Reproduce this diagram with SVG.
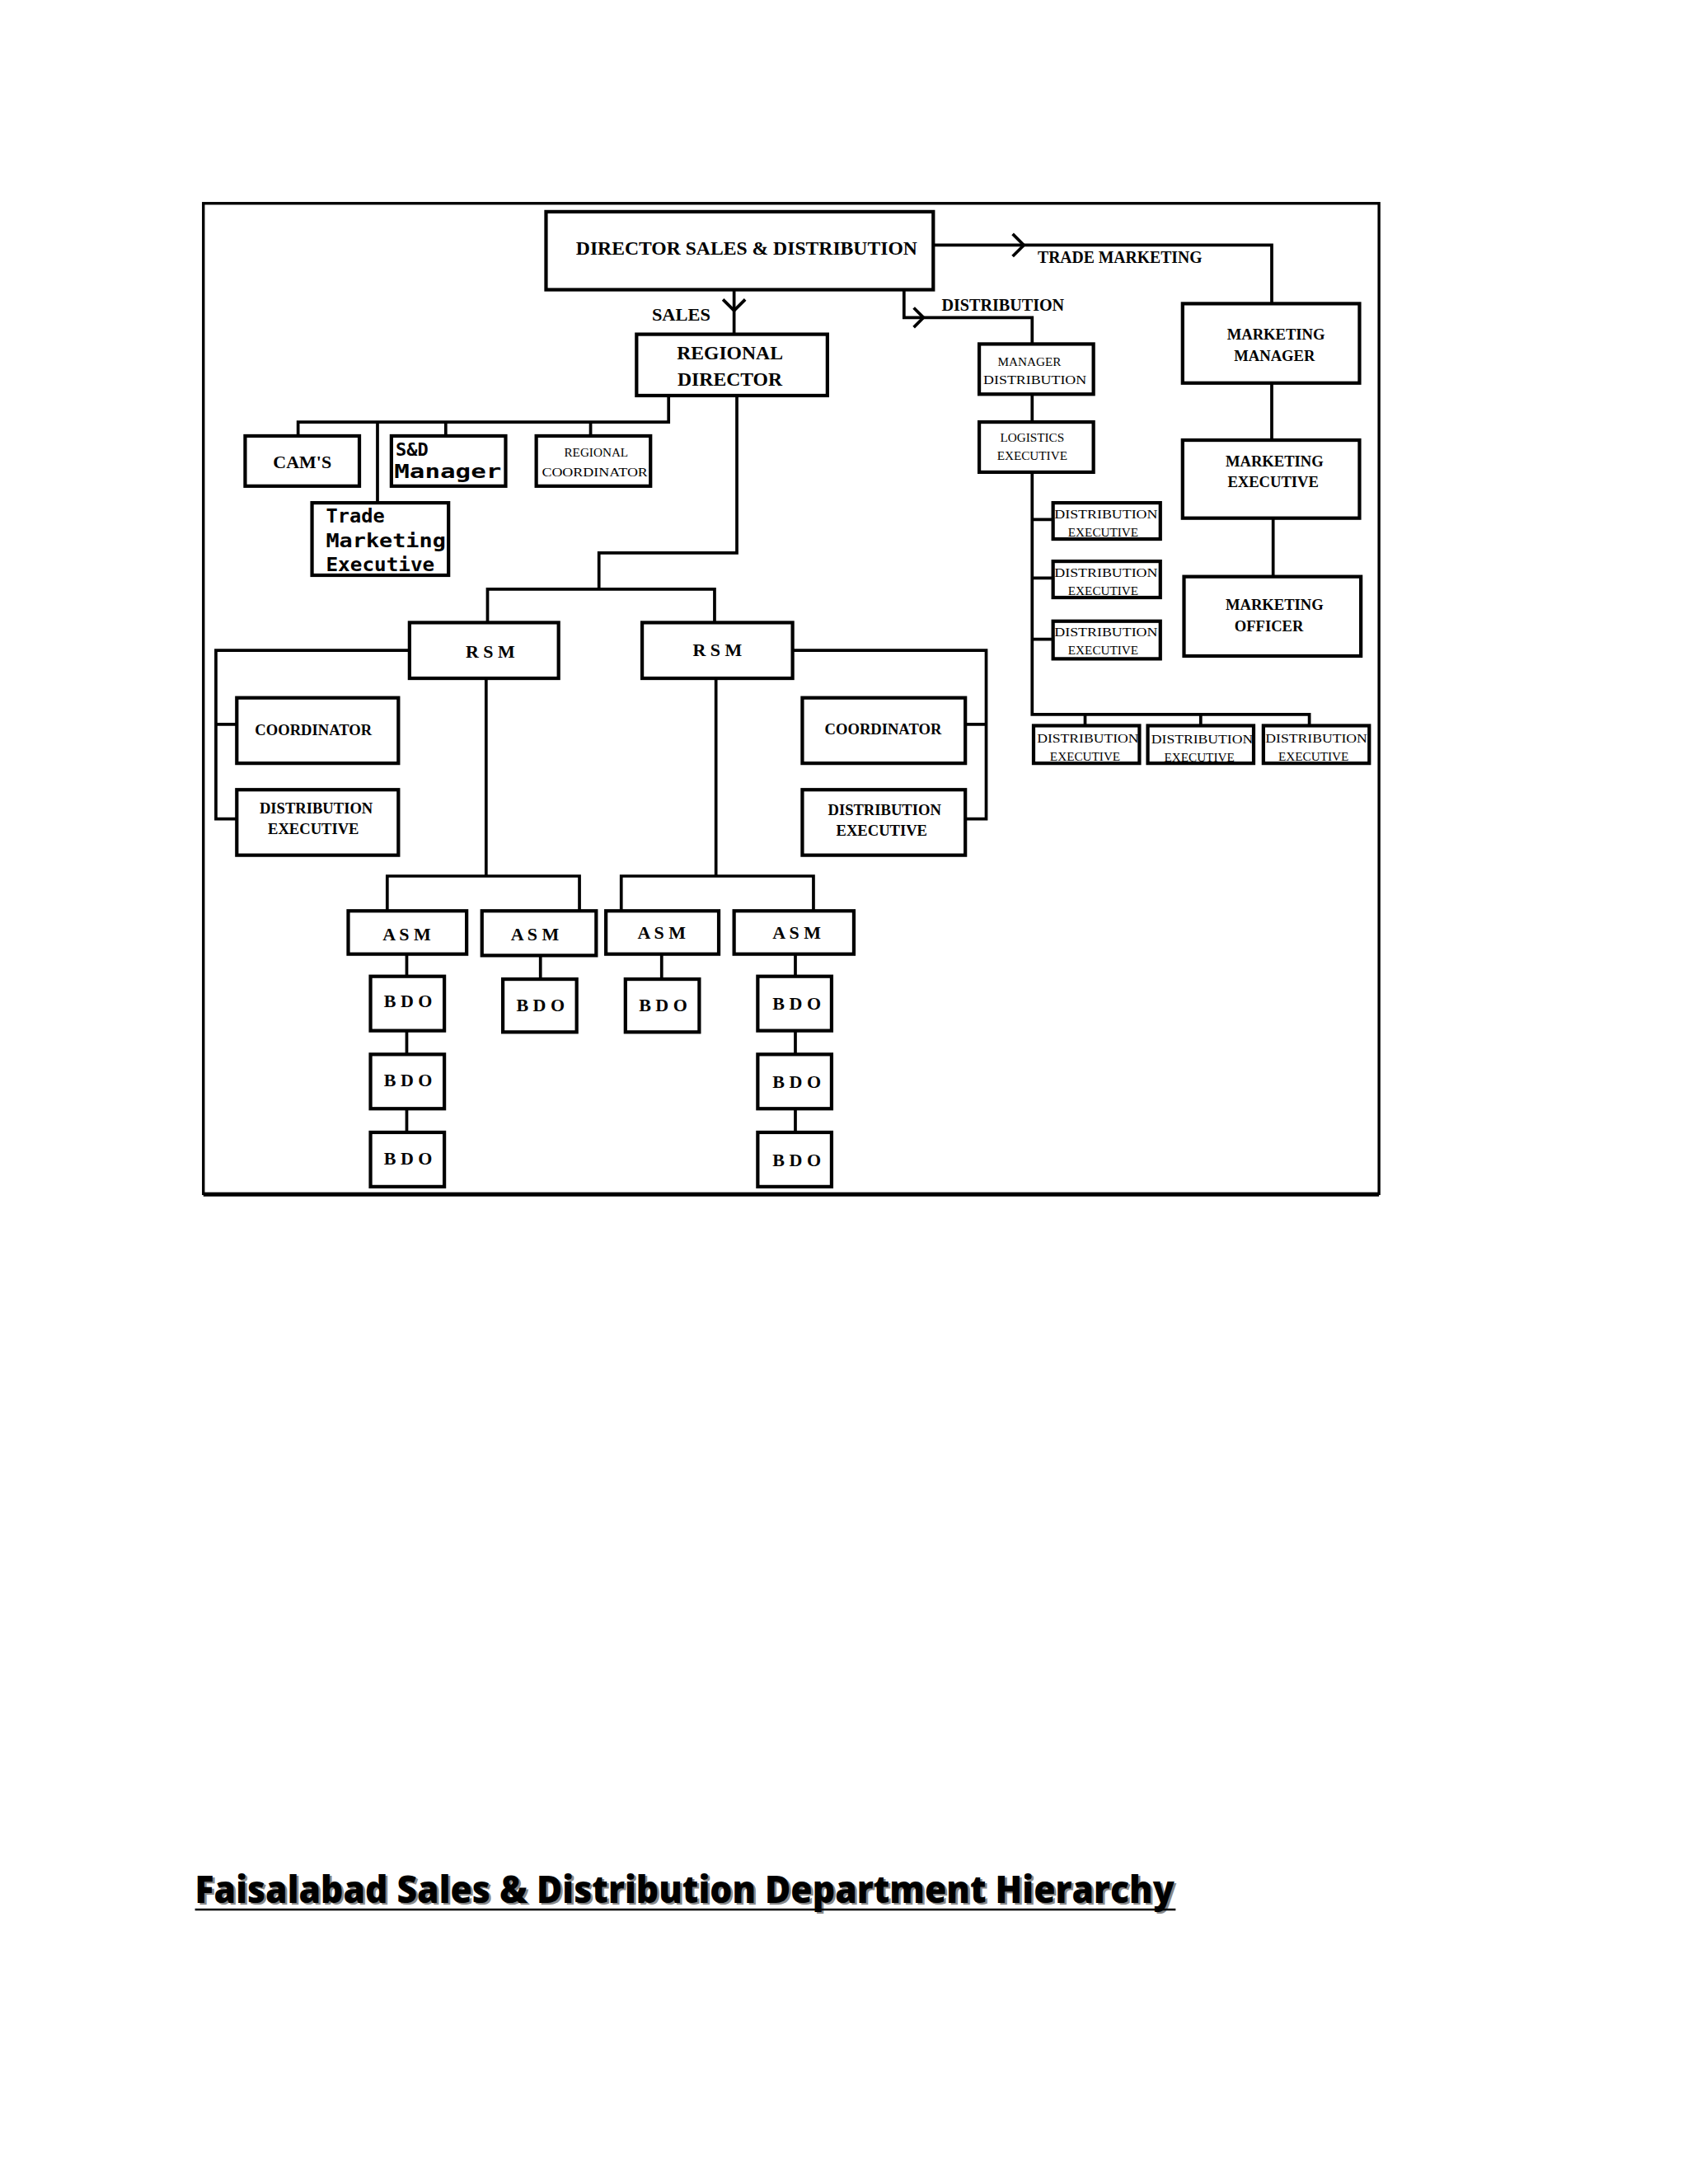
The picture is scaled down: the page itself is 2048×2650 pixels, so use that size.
<svg xmlns="http://www.w3.org/2000/svg" width="2048" height="2650" viewBox="0 0 2048 2650">
<style>
.b{fill:#fff;stroke:#000;stroke-width:2.5}
.c{fill:none;stroke:#000;stroke-width:2.2}
.t{font-family:"Liberation Serif",serif;font-weight:bold;fill:#000;text-anchor:middle}
.s{font-family:"Liberation Serif",serif;fill:#000;text-anchor:middle;font-size:9px}
.m{font-family:"DejaVu Sans Mono",monospace;font-weight:bold;fill:#000}
</style>
<rect width="2048" height="2650" fill="#fff"/>
<g transform="scale(1.69)">
<rect x="146" y="146" width="844" height="711" fill="none" stroke="#000" stroke-width="2"/>
<line x1="146" y1="858.5" x2="990" y2="858.5" stroke="#000" stroke-width="1"/>
<g id="connectors" class="c">
<path d="M670 176H913V218"/><path d="M727 168L735 176L727 184"/>
<path d="M649 208V228H741V247"/><path d="M656 221L663 228L656 235"/>
<path d="M527 208V240"/><path d="M519 215L527 223L535 215"/>
<path d="M480 284V303H214V313M271 303V361M320 303V313M424 303V313"/>
<path d="M529 284V397H430V423M350 447V423H513V447"/>
<path d="M294 467H155V588H170M155 520H170"/>
<path d="M569 467H708V588H693M708 520H693"/>
<path d="M349 487V629M278 654V629H416V654"/>
<path d="M514 487V629M446 654V629H584V654"/>
<path d="M292 685V701M292 740V757M292 796V813"/>
<path d="M388 686V703M475 685V703"/>
<path d="M571 685V701M571 740V757M571 796V813"/>
<path d="M741 283V303M741 339V513H940V521M779 513V521M862 513V521M741 373H756M741 415H756M741 459H756"/>
<path d="M913 275V316M914 372V414"/>
</g>
<g class="t" font-size="12">
<text x="804" y="189" textLength="118" lengthAdjust="spacingAndGlyphs">TRADE MARKETING</text>
<text x="720" y="223" textLength="88" lengthAdjust="spacingAndGlyphs">DISTRIBUTION</text>
<text x="489" y="230" font-size="13" textLength="42" lengthAdjust="spacingAndGlyphs">SALES</text>
</g>
<g id="director"><rect class="b" x="392" y="152" width="278" height="56"/><text class="t" x="536" y="183" font-size="14" textLength="245" lengthAdjust="spacingAndGlyphs">DIRECTOR  SALES &amp; DISTRIBUTION</text></g>
<g id="regional-director"><rect class="b" x="457" y="240" width="137" height="44"/><text class="t" x="524" y="258" font-size="14">REGIONAL</text><text class="t" x="524" y="277" font-size="14">DIRECTOR</text></g>
<g id="cams"><rect class="b" x="176" y="313" width="82" height="36"/><text class="t" x="217" y="336" font-size="13">CAM'S</text></g>
<g id="sd-manager"><rect class="b" x="281" y="313" width="82" height="36"/><text class="m" x="284" y="327" font-size="13">S&amp;D</text><text class="m" x="283" y="343" font-size="14" textLength="77" lengthAdjust="spacingAndGlyphs">Manager</text></g>
<g id="regional-coordinator"><rect class="b" x="385" y="313" width="82" height="36"/><text class="s" x="428" y="328">REGIONAL</text><text class="s" x="427" y="342" textLength="76" lengthAdjust="spacingAndGlyphs">COORDINATOR</text></g>
<g id="trade-marketing-exec"><rect class="b" x="224" y="361" width="98" height="52"/><text class="m" x="234" y="375" font-size="14">Trade</text><text class="m" x="234" y="393" font-size="14" textLength="86" lengthAdjust="spacingAndGlyphs">Marketing</text><text class="m" x="234" y="410" font-size="14" textLength="78" lengthAdjust="spacingAndGlyphs">Executive</text></g>
<g id="rsm-1"><rect class="b" x="294" y="447" width="107" height="40"/><text class="t" x="352" y="472" font-size="13">R S M</text></g>
<g id="rsm-2"><rect class="b" x="461" y="447" width="108" height="40"/><text class="t" x="515" y="471" font-size="13">R S M</text></g>
<g id="coordinator-1"><rect class="b" x="170" y="501" width="116" height="47"/><text class="t" x="225" y="528" font-size="11">COORDINATOR</text></g>
<g id="dist-exec-1"><rect class="b" x="170" y="567" width="116" height="47"/><text class="t" x="227" y="584" font-size="11">DISTRIBUTION</text><text class="t" x="225" y="599" font-size="11">EXECUTIVE</text></g>
<g id="coordinator-2"><rect class="b" x="576" y="501" width="117" height="47"/><text class="t" x="634" y="527" font-size="11">COORDINATOR</text></g>
<g id="dist-exec-2"><rect class="b" x="576" y="567" width="117" height="47"/><text class="t" x="635" y="585" font-size="11">DISTRIBUTION</text><text class="t" x="633" y="600" font-size="11">EXECUTIVE</text></g>
<g id="asm-1"><rect class="b" x="250" y="654" width="85" height="31"/><text class="t" x="292" y="675" font-size="13">A S M</text></g>
<g id="asm-2"><rect class="b" x="346" y="654" width="82" height="32"/><text class="t" x="384" y="675" font-size="13">A S M</text></g>
<g id="asm-3"><rect class="b" x="435" y="654" width="81" height="31"/><text class="t" x="475" y="674" font-size="13">A S M</text></g>
<g id="asm-4"><rect class="b" x="527" y="654" width="86" height="31"/><text class="t" x="572" y="674" font-size="13">A S M</text></g>
<g id="bdo-1"><rect class="b" x="266" y="701" width="53" height="39"/><text class="t" x="293" y="723" font-size="13">B D O</text></g>
<g id="bdo-2"><rect class="b" x="266" y="757" width="53" height="39"/><text class="t" x="293" y="780" font-size="13">B D O</text></g>
<g id="bdo-3"><rect class="b" x="266" y="813" width="53" height="39"/><text class="t" x="293" y="836" font-size="13">B D O</text></g>
<g id="bdo-4"><rect class="b" x="361" y="703" width="53" height="38"/><text class="t" x="388" y="726" font-size="13">B D O</text></g>
<g id="bdo-5"><rect class="b" x="449" y="703" width="53" height="38"/><text class="t" x="476" y="726" font-size="13">B D O</text></g>
<g id="bdo-6"><rect class="b" x="544" y="701" width="53" height="39"/><text class="t" x="572" y="725" font-size="13">B D O</text></g>
<g id="bdo-7"><rect class="b" x="544" y="757" width="53" height="39"/><text class="t" x="572" y="781" font-size="13">B D O</text></g>
<g id="bdo-8"><rect class="b" x="544" y="813" width="53" height="39"/><text class="t" x="572" y="837" font-size="13">B D O</text></g>
<g id="manager-distribution"><rect class="b" x="703" y="247" width="82" height="36"/><text class="s" x="739" y="263">MANAGER</text><text class="s" x="743" y="276" textLength="74" lengthAdjust="spacingAndGlyphs">DISTRIBUTION</text></g>
<g id="logistics-exec"><rect class="b" x="703" y="303" width="82" height="36"/><text class="s" x="741" y="317">LOGISTICS</text><text class="s" x="741" y="330">EXECUTIVE</text></g>
<g id="de-a"><rect class="b" x="756" y="361" width="77" height="26"/><text class="s" x="794" y="372" textLength="74" lengthAdjust="spacingAndGlyphs">DISTRIBUTION</text><text class="s" x="792" y="385">EXECUTIVE</text></g>
<g id="de-b"><rect class="b" x="756" y="403" width="77" height="26"/><text class="s" x="794" y="414" textLength="74" lengthAdjust="spacingAndGlyphs">DISTRIBUTION</text><text class="s" x="792" y="427">EXECUTIVE</text></g>
<g id="de-c"><rect class="b" x="756" y="446" width="77" height="27"/><text class="s" x="794" y="457" textLength="74" lengthAdjust="spacingAndGlyphs">DISTRIBUTION</text><text class="s" x="792" y="470">EXECUTIVE</text></g>
<g id="de-d"><rect class="b" x="742" y="521" width="76" height="27"/><text class="s" x="781" y="533" textLength="73" lengthAdjust="spacingAndGlyphs">DISTRIBUTION</text><text class="s" x="779" y="546">EXECUTIVE</text></g>
<g id="de-e"><rect class="b" x="824" y="521" width="76" height="27"/><text class="s" x="863" y="534" textLength="73" lengthAdjust="spacingAndGlyphs">DISTRIBUTION</text><text class="s" x="861" y="547">EXECUTIVE</text></g>
<g id="de-f"><rect class="b" x="907" y="521" width="76" height="27"/><text class="s" x="945" y="533" textLength="73" lengthAdjust="spacingAndGlyphs">DISTRIBUTION</text><text class="s" x="943" y="546">EXECUTIVE</text></g>
<g id="marketing-manager"><rect class="b" x="849" y="218" width="127" height="57"/><text class="t" x="916" y="244" font-size="11">MARKETING</text><text class="t" x="915" y="259" font-size="11">MANAGER</text></g>
<g id="marketing-exec"><rect class="b" x="849" y="316" width="127" height="56"/><text class="t" x="915" y="335" font-size="11">MARKETING</text><text class="t" x="914" y="350" font-size="11">EXECUTIVE</text></g>
<g id="marketing-officer"><rect class="b" x="850" y="414" width="127" height="57"/><text class="t" x="915" y="438" font-size="11">MARKETING</text><text class="t" x="911" y="453" font-size="11">OFFICER</text></g>
<g id="title" font-family="'Open Sans',sans-serif" font-weight="800" font-size="27">
<text x="141.5" y="1367.5" fill="#888" textLength="703" lengthAdjust="spacingAndGlyphs">Faisalabad Sales &amp; Distribution Department Hierarchy</text>
<text x="140" y="1366" fill="#000" textLength="703" lengthAdjust="spacingAndGlyphs">Faisalabad Sales &amp; Distribution Department Hierarchy</text>
<line x1="140" y1="1371" x2="844" y2="1371" stroke="#000" stroke-width="1.5"/>
</g>
</g>
</svg>
